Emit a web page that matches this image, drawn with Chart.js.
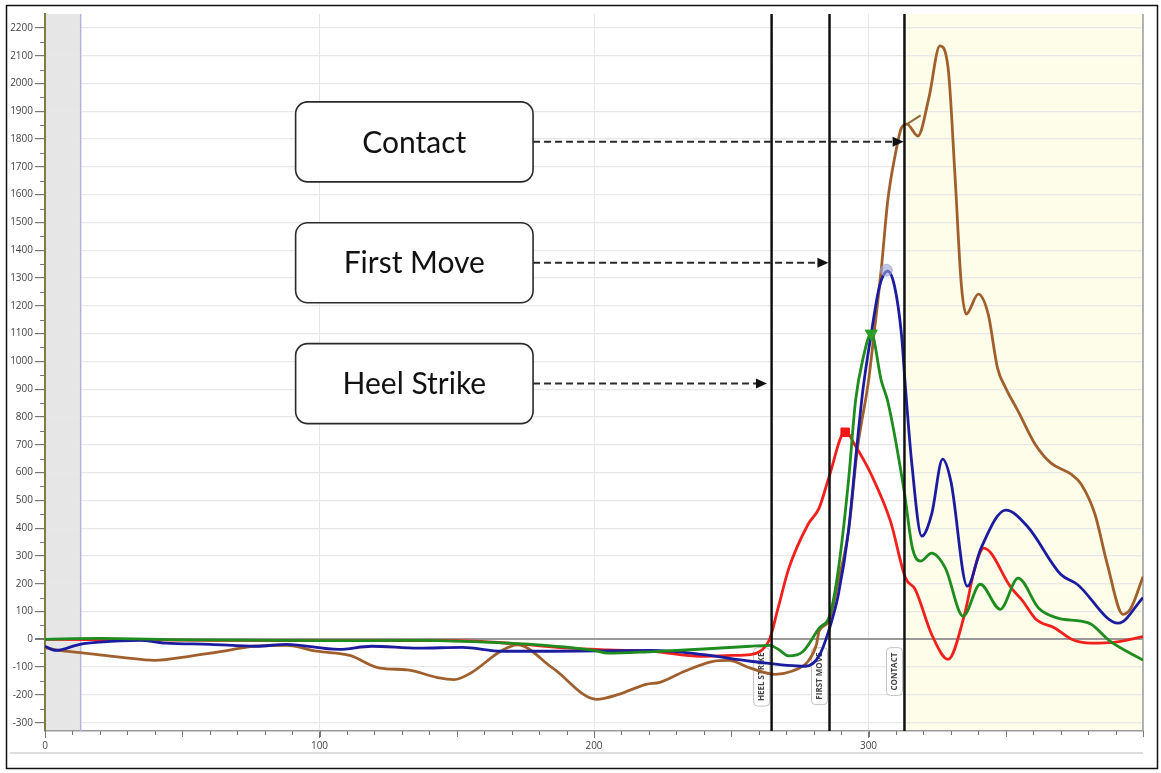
<!DOCTYPE html>
<html>
<head>
<meta charset="utf-8">
<script src="https://cdn.jsdelivr.net/npm/chart.js@4.4.1/dist/chart.umd.min.js"></script>
<style>
  html, body { margin: 0; padding: 0; background: #fff; }
  #wrap { position: absolute; left: 0; top: 0; width: 1161px; height: 773px; }
</style>
</head>
<body>
<div id="wrap"><canvas id="chart" width="1161" height="773"></canvas></div>
<script>
// traces (x = sample, y = value)
var brownX = [0, 5, 13, 28, 40, 52, 65, 76, 88, 99, 111, 122, 132, 143, 149, 155, 166, 172, 185, 201,
  209, 219, 224, 233, 243, 249, 257, 266, 272, 278, 281, 282, 285.5, 289, 292.7, 296, 300, 302, 304.7, 307,
  309.8, 312, 314, 318, 322, 326, 329, 331.5, 333.8, 335.6, 340, 343.6, 347, 350, 354.5, 360.7, 366.5, 373.8, 377.5, 382.5,
  387, 392.7, 395.6, 400];
var brownY = [-30, -40, -48, -65, -76, -62, -43, -25, -22, -43, -58, -104, -110, -138, -145, -122, -43, -20, -104, -216,
  -198, -162, -155, -115, -80, -76, -104, -126, -115, -79, -20, 29, 65, 209, 389, 688, 929, 1098, 1336, 1577,
  1746, 1840, 1854, 1811, 1948, 2135, 2056, 1670, 1278, 1170, 1242, 1170, 976, 904, 821, 702, 634, 594, 558, 450,
  270, 90, 112, 225];
var brownStubX = [314, 319];
var brownStubY = [1854, 1885];

var redX = [0, 50, 100, 150, 170, 191, 205, 221, 239, 250, 257, 261, 264, 267, 271, 278, 282, 285.5, 291.6, 295,
  301, 308, 313.5, 317, 323, 329, 335, 338.7, 342, 352, 356, 361, 368, 374, 381, 390, 400];
var redY = [0, -3, -5, -5, -15, -32, -38, -43, -61, -58, -55, -40, 0, 110, 256, 414, 472, 580, 749, 700,
  593, 425, 220, 180, 18, -72, 90, 256, 328, 185, 140, 72, 40, 0, -14, -10, 10];

var greenX = [0, 20, 50, 100, 136, 160, 180, 200, 205, 220, 240, 257, 264, 267, 271, 276, 282, 286, 289, 292.7,
  295.3, 298, 301, 304.7, 307, 313, 316, 319, 323, 328, 334.5, 340.7, 348, 354.5, 362, 369, 377.5, 381, 388, 400];
var greenY = [0, 3, -2, -5, -4, -10, -20, -40, -50, -45, -35, -25, -22, -35, -60, -45, 40, 90, 250, 569,
  860, 1010, 1100, 929, 857, 533, 328, 281, 310, 256, 83, 198, 108, 220, 112, 76, 65, 55, -7, -75];

var blueX = [0, 4, 12.7, 20, 34.5, 44, 60, 77, 88, 107, 119, 136, 152, 166.5, 185, 221, 239, 257, 277, 282,
  285.5, 289, 292.7, 295.7, 298, 301, 304, 307, 309.5, 312, 313.5, 315.8, 319.4, 323, 327, 330, 336, 341, 350, 358,
  370, 376, 391, 400];
var blueY = [-25, -40, -18, -10, -4, -14, -18, -25, -18, -36, -25, -32, -29, -43, -43, -40, -54, -79, -97, -60,
  30, 160, 389, 688, 900, 1100, 1270, 1325, 1270, 1098, 900, 630, 371, 450, 648, 569, 191, 328, 465, 405,
  234, 198, 58, 150];

// peak markers: red, green, blue
var peakX = [291.5, 301, 306.5];
var peakY = [745, 1100, 1328];

// events
var eventNames = ["HEEL STRIKE", "FIRST MOVE", "CONTACT"];
var eventX = [264.7, 285.8, 313.1];
var calloutText = ["Contact", "First Move", "Heel Strike"];
var calloutY = [1790, 1355, 920];
var arrowEndX = [312.8, 285.4, 263.0];

var xTicks = [0, 100, 200, 300];
var yTicks = [];
for (var t = -300; t <= 2200; t += 100) yTicks.push(t);

function zip(xs, ys) {
  var out = [];
  for (var i = 0; i < xs.length; i++) out.push({ x: xs[i], y: ys[i] });
  return out;
}

function trace(data, color, width) {
  return {
    data: data, borderColor: color, borderWidth: width || 2.8,
    pointRadius: 0, fill: false, cubicInterpolationMode: "monotone"
  };
}

var greyBandEnd = 13;
var yellowStart = eventX[2];

var bgPlugin = {
  id: "bg",
  beforeDraw: function(chart) {
    var c = chart.ctx, a = chart.chartArea, x = chart.scales.x;
    c.save();
    c.fillStyle = "#fff";
    c.fillRect(0, 0, chart.width, chart.height);
    c.fillStyle = "#e6e6e6";
    c.fillRect(a.left, a.top, x.getPixelForValue(greyBandEnd) - a.left, a.bottom - a.top);
    c.fillStyle = "#fdfdea";
    var ys = x.getPixelForValue(yellowStart);
    c.fillRect(ys, a.top, a.right - ys, a.bottom - a.top);
    c.strokeStyle = "#dcdcdc";
    c.lineWidth = 2;
    c.beginPath(); c.moveTo(10, 753); c.lineTo(a.right, 753); c.stroke();
    c.strokeStyle = "#111";
    c.lineWidth = 1.5;
    c.strokeRect(6.5, 5.5, 1151, 763);
    c.restore();
  },
  beforeDatasetsDraw: function(chart) {
    var c = chart.ctx, a = chart.chartArea, x = chart.scales.x, y = chart.scales.y;
    c.save();
    // blue marker line at end of grey band
    c.strokeStyle = "#b4b4dc";
    c.lineWidth = 1.5;
    var gx = x.getPixelForValue(greyBandEnd);
    c.beginPath(); c.moveTo(gx, a.top); c.lineTo(gx, a.bottom); c.stroke();
    // right border
    c.strokeStyle = "#9a9a9a";
    c.beginPath(); c.moveTo(a.right, a.top); c.lineTo(a.right, a.bottom); c.stroke();
    // event tags
    c.font = "bold 8px 'Open Sans'";
    for (var i = 0; i < eventNames.length; i++) {
      var lx = x.getPixelForValue(eventX[i]);
      var tw = c.measureText(eventNames[i]).width;
      var top = y.getPixelForValue(-30);
      var h = tw + 10, w = 16;
      var left = lx - 2 - w;
      c.fillStyle = "rgba(255,255,255,0.85)";
      c.strokeStyle = "#c4c4c4";
      c.lineWidth = 1;
      c.beginPath();
      c.roundRect(left, top, w, h, 4);
      c.fill(); c.stroke();
      c.save();
      c.translate(left + w / 2, top + h / 2);
      c.rotate(-Math.PI / 2);
      c.fillStyle = "#444";
      c.textAlign = "center";
      c.textBaseline = "middle";
      c.fillText(eventNames[i], 0, 0);
      c.restore();
    }
    c.restore();
  },
  afterDatasetsDraw: function(chart) {
    var c = chart.ctx, a = chart.chartArea, x = chart.scales.x, y = chart.scales.y;
    c.save();
    c.strokeStyle = "#111";
    c.lineWidth = 2.5;
    for (var i = 0; i < eventX.length; i++) {
      var lx = x.getPixelForValue(eventX[i]);
      c.beginPath(); c.moveTo(lx, a.top); c.lineTo(lx, a.bottom); c.stroke();
    }
    // callouts
    var bl = x.getPixelForValue(91.3), br = x.getPixelForValue(177.8);
    for (var j = 0; j < calloutText.length; j++) {
      var cy = y.getPixelForValue(calloutY[j]);
      c.fillStyle = "#fff";
      c.strokeStyle = "#2a2a2a";
      c.lineWidth = 1.6;
      c.setLineDash([]);
      c.beginPath();
      c.roundRect(bl, cy - 40, br - bl, 80, 12);
      c.fill(); c.stroke();
      c.fillStyle = "#111";
      c.font = "30px Lato";
      c.textAlign = "center";
      c.textBaseline = "middle";
      c.fillText(calloutText[j], (bl + br) / 2, cy + 1);
      var tip = x.getPixelForValue(arrowEndX[j]);
      c.lineWidth = 2;
      c.setLineDash([7, 4]);
      c.beginPath(); c.moveTo(br, cy); c.lineTo(tip - 10, cy); c.stroke();
      c.setLineDash([]);
      c.beginPath();
      c.moveTo(tip, cy); c.lineTo(tip - 11, cy - 5); c.lineTo(tip - 11, cy + 5); c.closePath();
      c.fill();
    }
    c.restore();
  },
  afterDraw: function(chart) {
    var c = chart.ctx, a = chart.chartArea, x = chart.scales.x, y = chart.scales.y;
    c.save();
    c.strokeStyle = "#777";
    c.lineWidth = 1;
    for (var v = 0; v <= 400; v += 10) {
      var px = Math.round(x.getPixelForValue(v)) + 0.5;
      c.beginPath(); c.moveTo(px, a.bottom); c.lineTo(px, a.bottom + (v % 50 === 0 ? 6 : 4)); c.stroke();
    }
    for (var w = -300; w <= 2200; w += 50) {
      if (w % 100 === 0) continue;
      var py = Math.round(y.getPixelForValue(w)) + 0.5;
      c.beginPath(); c.moveTo(a.left - 5, py); c.lineTo(a.left, py); c.stroke();
    }
    c.restore();
  }
};

var ctx = document.getElementById("chart").getContext("2d");
var chart = new Chart(ctx, {
  type: "line",
  data: {
    datasets: [
      { type: "scatter", data: [{ x: peakX[0], y: peakY[0] }], pointStyle: "rect", pointRadius: 6,
        backgroundColor: "#f01818", borderColor: "#f01818", showLine: false },
      { type: "scatter", data: [{ x: peakX[1], y: peakY[1] }], pointStyle: "triangle", rotation: 180, pointRadius: 7,
        backgroundColor: "#2aa02a", borderColor: "#2aa02a", showLine: false },
      { type: "scatter", data: [{ x: peakX[2], y: peakY[2] }], pointStyle: "circle", pointRadius: 6,
        backgroundColor: "rgba(150,160,210,0.6)", borderColor: "rgba(150,160,210,0.6)", showLine: false },
      trace(zip(greenX, greenY), "#1e8c1e"),
      trace(zip(blueX, blueY), "#1c1ca0"),
      trace(zip(redX, redY), "#f2201c"),
      trace(zip(brownStubX, brownStubY), "#8c6a3c", 2),
      trace(zip(brownX, brownY), "#a0602e")
    ]
  },
  options: {
    responsive: false,
    animation: false,
    devicePixelRatio: 1,
    layout: { padding: { left: 5, right: 18, top: 14, bottom: 16 } },
    plugins: { legend: { display: false }, tooltip: { enabled: false } },
    scales: {
      x: {
        type: "linear", min: 0, max: 400,
        afterBuildTicks: function(axis) { axis.ticks = xTicks.map(function(v) { return { value: v }; }); },
        afterFit: function(axis) { axis.height = 26; },
        grid: { color: "#e6e6e6", lineWidth: 1, tickLength: 7, tickColor: "#777" },
        border: { color: "#9a9a9a", width: 1.5 },
        ticks: { font: { family: "'Open Sans'", size: 10 }, color: "#444", padding: 2, maxRotation: 0,
          callback: function(v) { return String(v); } }
      },
      y: {
        min: -330, max: 2250,
        afterBuildTicks: function(axis) { axis.ticks = yTicks.map(function(v) { return { value: v }; }); },
        afterFit: function(axis) { axis.width = 40; },
        grid: {
          color: function(c) { return c.tick && c.tick.value === 0 ? "#9a9a9a" : "#e8e8e8"; },
          lineWidth: function(c) { return c.tick && c.tick.value === 0 ? 2 : 1.2; },
          tickLength: 10, tickColor: "#777"
        },
        border: { color: "#807d40", width: 2 },
        ticks: { font: { family: "'Open Sans'", size: 10 }, color: "#444", padding: 2,
          callback: function(v) { return String(v); } }
      }
    }
  },
  plugins: [bgPlugin]
});
</script>
</body>
</html>
